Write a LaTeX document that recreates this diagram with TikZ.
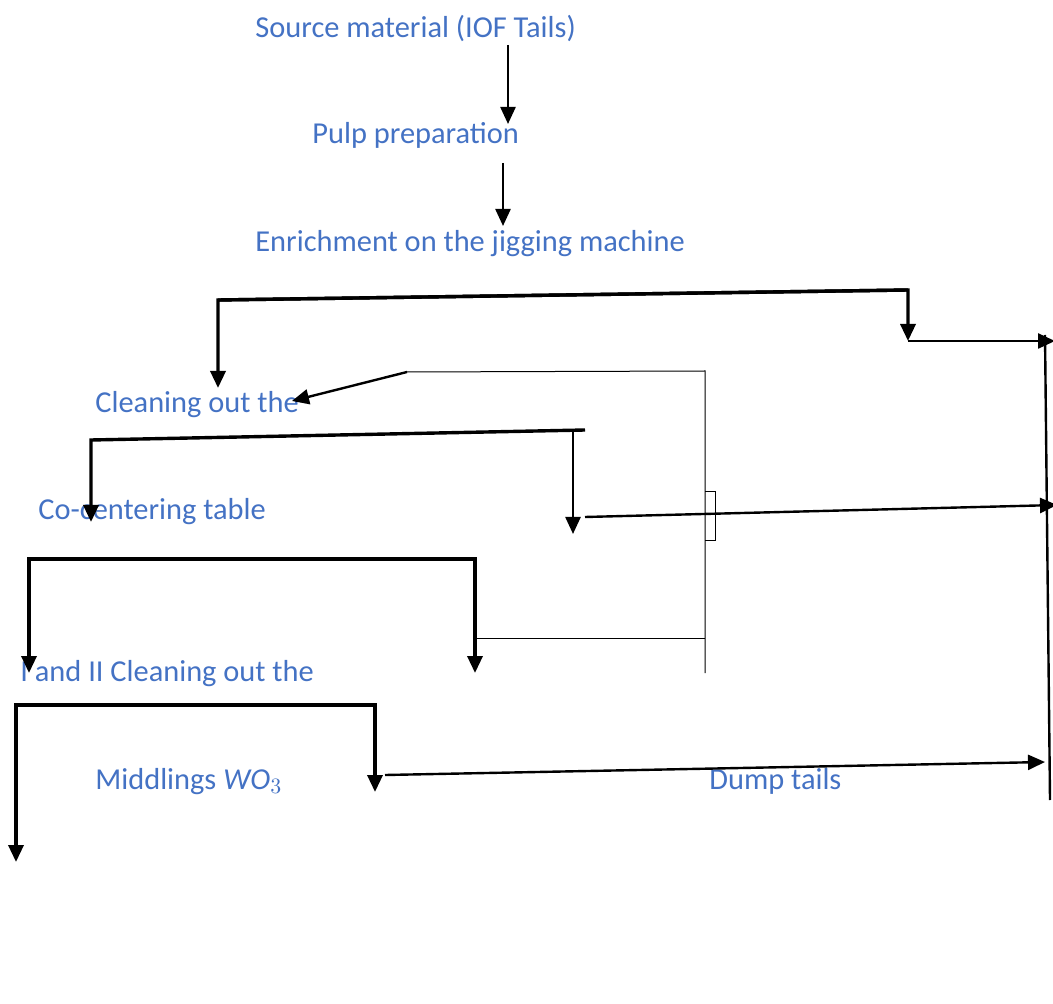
\documentclass[tikz,border=0pt]{standalone}
\usepackage{fontspec}
\setmainfont{Carlito}
\usetikzlibrary{arrows.meta}
\definecolor{txtblue}{HTML}{4472C4}
\tikzset{
  lbl/.style={anchor=base west, inner sep=0pt, text=txtblue, font=\fontsize{15.2}{18}\selectfont},
  thickln/.style={line width=1.7pt},
  medln/.style={line width=1.2pt},
  thinln/.style={line width=0.5pt},
  tip/.style={-{Triangle[length=8.5pt,width=7.5pt]}}
}
\begin{document}
\begin{tikzpicture}[x=0.5pt,y=-0.5pt]
\useasboundingbox (0,0) rectangle (1053,1004);
% texts
\node[lbl] (src) at (255,38) {Source material (IOF Tails)};
\node[lbl] (pulp) at (312,144) {Pulp preparation};
\node[lbl] (enr) at (255,252) {Enrichment on the jigging machine};
\node[lbl] (clean) at (95,413) {Cleaning out the};
\node[lbl] (cotab) at (38,520) {Co-centering table};
\node[lbl] (clean2) at (20,681) {I and II Cleaning out the};
\node[lbl] (midd) at (95,789) {Middlings $\mathit{WO}_3$};
\node[lbl] (dump) at (709,789) {Dump tails};
% coordinates
\coordinate (a1) at (508,45); \coordinate (a2) at (508,124);
\coordinate (b1) at (503,163); \coordinate (b2) at (503,226);
\coordinate (c1) at (218,300); \coordinate (c2) at (908,290); \coordinate (c3) at (908,341); \coordinate (c0) at (218,388);
\coordinate (d2) at (1055,341);
\coordinate (r1) at (1045,335); \coordinate (r2) at (1050,800);
\coordinate (e1) at (407,372); \coordinate (e2) at (292,401);
\coordinate (f1) at (705,371); \coordinate (f2) at (705,673);
\coordinate (g1) at (705,492); \coordinate (g2) at (715,492); \coordinate (g3) at (715,540); \coordinate (g4) at (705,540);
\coordinate (h1) at (91,440); \coordinate (h2) at (585,430); \coordinate (h0) at (91,522);
\coordinate (i1) at (573,430); \coordinate (i2) at (573,534);
\coordinate (j1) at (585,517); \coordinate (j2) at (1057,505);
\coordinate (k1) at (29,559); \coordinate (k2) at (475,559); \coordinate (k0) at (29,673); \coordinate (k3) at (475,673);
\coordinate (l1) at (475,638);
\coordinate (m1) at (16,705); \coordinate (m2) at (375,705); \coordinate (m0) at (16,862); \coordinate (m3) at (375,792);
\coordinate (n1) at (385,775); \coordinate (n2) at (1045,762);
% connectors
\draw[medln,tip] (a1) -- (a2);
\draw[medln,tip] (b1) -- (b2);
\draw[thickln,tip] (c2) -- (c1) -- (c0);
\draw[thickln,tip] (c1) -- (c2) -- (c3);
\draw[medln,tip] (c3) -- (d2);
\draw[medln] (r1) -- (r2);
\draw[medln,tip] (e1) -- (e2);
\draw[thinln] (e1) -- (f1) -- (f2);
\draw[thinln] (g1) -- (g2) -- (g3) -- (g4);
\draw[thickln,tip] (h2) -- (h1) -- (h0);
\draw[medln,tip] (i1) -- (i2);
\draw[medln,tip] (j1) -- (j2);
\draw[thickln,tip] (k2) -- (k1) -- (k0);
\draw[thickln,tip] (k1) -- (k2) -- (k3);
\draw[thinln] (l1) -- (f1 |- l1);
\draw[thickln,tip] (m2) -- (m1) -- (m0);
\draw[thickln,tip] (m1) -- (m2) -- (m3);
\draw[medln,tip] (n1) -- (n2);
\end{tikzpicture}
\end{document}
